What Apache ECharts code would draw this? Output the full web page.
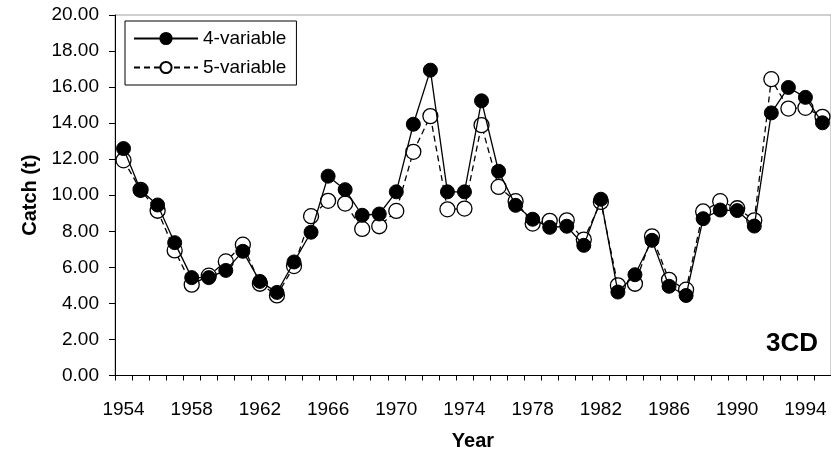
<!DOCTYPE html>
<html>
<head>
<meta charset="utf-8">
<script src="https://cdn.jsdelivr.net/npm/echarts@6/dist/echarts.min.js"></script>
<style>html,body{margin:0;padding:0;background:#fff}#c{width:831px;height:460px}</style>
</head>
<body>
<div id="c"></div>
<script>
var years = [];
for (var y = 1954; y <= 1995; y++) years.push(String(y));
var fourVar = [12.59, 10.28, 9.46, 7.37, 5.43, 5.43, 5.83, 6.89, 5.22, 4.61,
  6.30, 7.95, 11.06, 10.31, 8.89, 8.96, 10.19, 13.94, 16.94, 10.19,
  10.19, 15.24, 11.33, 9.44, 8.67, 8.22, 8.28, 7.22, 9.78, 4.63,
  5.59, 7.50, 4.95, 4.44, 8.70, 9.18, 9.15, 8.29, 14.57, 15.98,
  15.43, 14.02];
var fiveVar = [11.94, 10.30, 9.14, 6.94, 5.04, 5.54, 6.33, 7.26, 5.09, 4.44,
  6.07, 8.84, 9.69, 9.54, 8.13, 8.28, 9.13, 12.41, 14.39, 9.22,
  9.26, 13.89, 10.46, 9.67, 8.43, 8.58, 8.61, 7.54, 9.63, 5.00,
  5.09, 7.72, 5.31, 4.76, 9.10, 9.67, 9.28, 8.61, 16.44, 14.81,
  14.85, 14.35];
var seriesNames = ['4-variable', '5-variable'];
var yTicks = [0, 2, 4, 6, 8, 10, 12, 14, 16, 18, 20];

var chart = echarts.init(document.getElementById('c'), null, {renderer: 'canvas'});
var font = 'Liberation Sans, Arial, sans-serif';
chart.setOption({
  animation: false,
  backgroundColor: '#ffffff',
  grid: {left: 115, right: 0, top: 15, bottom: 84.5, show: true, borderColor: '#a0a0a0', borderWidth: 1},
  legend: {
    orient: 'vertical', left: 125, top: 21, width: 170,
    data: seriesNames,
    itemWidth: 64, itemHeight: 14, itemGap: 10,
    padding: [8, 10, 8, 8],
    borderColor: '#000', borderWidth: 1, backgroundColor: '#fff',
    textStyle: {fontFamily: font, fontSize: 19, color: '#000'}
  },
  xAxis: {
    type: 'category', data: years, boundaryGap: true,
    name: 'Year', nameLocation: 'middle', nameGap: 56,
    nameTextStyle: {fontFamily: font, fontSize: 20, fontWeight: 'bold', color: '#000'},
    axisLine: {lineStyle: {color: '#000', width: 1}},
    axisTick: {show: true, interval: 0, length: 5, lineStyle: {color: '#000'}},
    axisLabel: {interval: 3, margin: 25, fontFamily: font, fontSize: 19, color: '#000'},
    splitLine: {show: false}
  },
  yAxis: {
    type: 'value', min: yTicks[0], max: yTicks[yTicks.length - 1], interval: 2,
    name: 'Catch (t)', nameLocation: 'middle', nameGap: 74,
    nameTextStyle: {fontFamily: font, fontSize: 20, fontWeight: 'bold', color: '#000'},
    axisLine: {show: true, lineStyle: {color: '#000', width: 1}},
    axisTick: {show: true, length: 6, lineStyle: {color: '#000'}},
    axisLabel: {margin: 16, fontFamily: font, fontSize: 19, color: '#000',
      formatter: function (v) { return v.toFixed(2); }},
    splitLine: {show: false}
  },
  graphic: [{
    type: 'text', right: 13, top: 331,
    style: {text: '3CD', fontFamily: font, fontSize: 26, fontWeight: 'bold', fill: '#000'}
  }],
  series: [{
    name: seriesNames[1], type: 'line', data: fiveVar, z: 2,
    symbol: 'circle', symbolSize: 15, showAllSymbol: true,
    lineStyle: {color: '#000', width: 1.3, type: [6, 4]},
    itemStyle: {color: '#fff', borderColor: '#000', borderWidth: 1.3}
  }, {
    name: seriesNames[0], type: 'line', data: fourVar, z: 3,
    symbol: 'circle', symbolSize: 14, showAllSymbol: true,
    lineStyle: {color: '#000', width: 1.3},
    itemStyle: {color: '#000', borderColor: '#000', borderWidth: 1}
  }]
});
</script>
</body>
</html>
